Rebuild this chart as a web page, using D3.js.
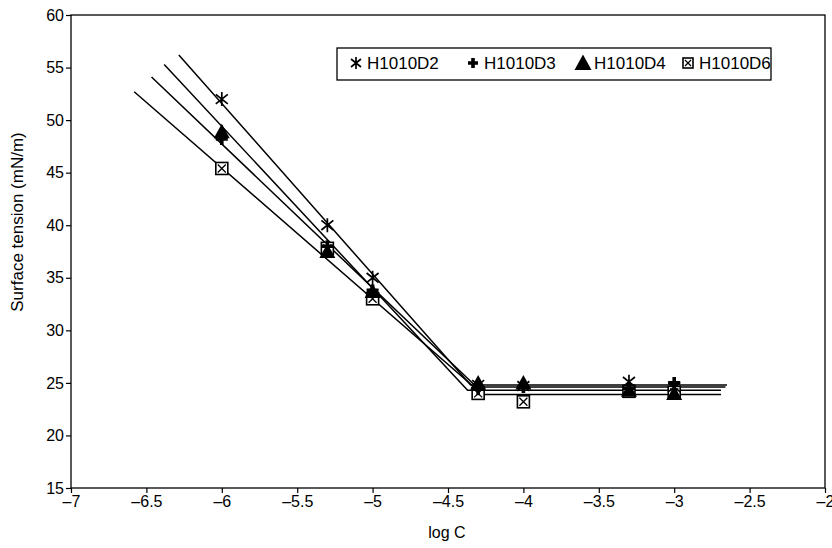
<!DOCTYPE html>
<html>
<head>
<meta charset="utf-8">
<script src="https://cdn.jsdelivr.net/npm/d3@7"></script>
<style>
  body { margin: 0; background: #fff; }
  svg { display: block; font-family: "Liberation Sans", Arial, sans-serif; }
</style>
</head>
<body>
<svg id="chart" width="832" height="548"></svg>
<script>
// log C values where surface tension was measured
var logC = [-6, -5.3, -5, -4.3, -4, -3.3, -3];

// surface tension (mN/m) for each sample
var valsD2 = [52.0, 40.0, 35.0, 24.8, 24.7, 25.1, 24.6];
var valsD3 = [48.2, 38.0, 33.8, 24.4, 24.6, 24.5, 25.0];
var valsD4 = [48.9, 37.5, 33.7, 25.0, 25.0, 24.3, 24.0];
var valsD6 = [45.4, 37.8, 33.0, 24.0, 23.2, 24.2, 24.1];

// fitted lines: [x start, y start, x break, y plateau, x end]
var fitD2 = [-6.285, 56.2, -4.35, 24.8, -2.65];
var fitD3 = [-6.466, 54.1, -4.31, 24.6, -2.66];
var fitD4 = [-6.382, 55.3, -4.37, 24.3, -2.69];
var fitD6 = [-6.581, 52.7, -4.27, 23.9, -2.69];

var names = ["H1010D2", "H1010D3", "H1010D4", "H1010D6"];
var markers = ["star", "plus", "triangle", "boxx"];

var xTicks = [-7, -6.5, -6, -5.5, -5, -4.5, -4, -3.5, -3, -2.5, -2];
var yTicks = [15, 20, 25, 30, 35, 40, 45, 50, 55, 60];

var series = [
  {name: names[0], values: valsD2, fit: fitD2, marker: markers[0]},
  {name: names[1], values: valsD3, fit: fitD3, marker: markers[1]},
  {name: names[2], values: valsD4, fit: fitD4, marker: markers[2]},
  {name: names[3], values: valsD6, fit: fitD6, marker: markers[3]}
];

var svg = d3.select("#chart");
var pLeft = 71, pRight = 825, pTop = 15, pBottom = 488;

var x = d3.scaleLinear().domain([-7, -2]).range([pLeft, pRight]);
var y = d3.scaleLinear().domain([15, 60]).range([pBottom, pTop]);

/******************** plot frame ********************/
svg.append("rect")
  .attr("x", pLeft).attr("y", pTop)
  .attr("width", pRight - pLeft).attr("height", pBottom - pTop)
  .attr("fill", "none").attr("stroke", "#000").attr("stroke-width", 1.3);

/******************** axes ********************/
var fmt = function (d) { return d3.format("")(d).replace("\u2212", "\u2013"); };

var xAxis = svg.append("g")
  .attr("transform", "translate(0," + pBottom + ")")
  .call(d3.axisBottom(x).tickValues(xTicks).tickSize(5).tickPadding(3).tickFormat(fmt));

var yAxis = svg.append("g")
  .attr("transform", "translate(" + pLeft + ",0)")
  .call(d3.axisLeft(y).tickValues(yTicks).tickSize(5).tickPadding(2).tickFormat(fmt));

[xAxis, yAxis].forEach(function (g) {
  g.select(".domain").remove();
  g.selectAll(".tick line").attr("stroke", "#000").attr("stroke-width", 1.2);
  g.selectAll(".tick text")
    .attr("fill", "#000")
    .style("font-size", "16px")
    .style("font-family", "'Liberation Sans', Arial, sans-serif");
});

svg.append("text")
  .attr("x", (pLeft + pRight) / 2 - 1).attr("y", 538)
  .attr("text-anchor", "middle")
  .style("font-size", "16px")
  .text("log C");

svg.append("text")
  .attr("transform", "translate(23,222) rotate(-90)")
  .attr("text-anchor", "middle")
  .style("font-size", "17px")
  .text("Surface tension (mN/m)");

/******************** fitted lines ********************/
var line = d3.line().x(function (d) { return x(d[0]); }).y(function (d) { return y(d[1]); });

svg.append("g").selectAll("path")
  .data(series)
  .join("path")
  .attr("d", function (s) {
    var f = s.fit;
    return line([[f[0], f[1]], [f[2], f[3]], [f[4], f[3]]]);
  })
  .attr("fill", "none")
  .attr("stroke", "#000")
  .attr("stroke-width", 1.5);

/******************** markers ********************/
function drawMarker(g, type, size) {
  var h = size / 2;
  if (type === "star") {
    g.append("path")
      .attr("d", "M" + (-h) + "," + (-h * 0.8) + "L" + h + "," + (h * 0.8) +
                 "M" + (-h) + "," + (h * 0.8) + "L" + h + "," + (-h * 0.8) +
                 "M0," + (-h - 1) + "L0," + (h + 1))
      .attr("stroke", "#000").attr("stroke-width", 1.7).attr("fill", "none");
  } else if (type === "plus") {
    g.append("path")
      .attr("d", "M" + (-h) + ",0L" + h + ",0M0," + (-h) + "L0," + h)
      .attr("stroke", "#000").attr("stroke-width", 3.6).attr("fill", "none");
  } else if (type === "triangle") {
    g.append("path")
      .attr("d", "M0," + (-h - 1) + "L" + (h + 1) + "," + (h - 0.5) + "L" + (-h - 1) + "," + (h - 0.5) + "Z")
      .attr("fill", "#000");
  } else {
    g.append("rect")
      .attr("x", -h).attr("y", -h).attr("width", size).attr("height", size)
      .attr("fill", "#fff").attr("stroke", "#000").attr("stroke-width", 1.6);
    g.append("path")
      .attr("d", "M" + (-h + 2) + "," + (-h + 2) + "L" + (h - 2) + "," + (h - 2) +
                 "M" + (-h + 2) + "," + (h - 2) + "L" + (h - 2) + "," + (-h + 2))
      .attr("stroke", "#000").attr("stroke-width", 1.3);
  }
}

series.slice().reverse().forEach(function (s) {
  s.values.forEach(function (v, i) {
    var g = svg.append("g").attr("transform", "translate(" + x(logC[i]) + "," + y(v) + ")");
    drawMarker(g, s.marker, s.marker === "triangle" ? 14 : 12);
  });
});

/******************** legend ********************/
var legend = svg.append("g");
legend.append("rect")
  .attr("x", 337).attr("y", 48).attr("width", 434).attr("height", 32)
  .attr("fill", "#fff").attr("stroke", "#000").attr("stroke-width", 1.3);

var legendX = [356, 473, 583, 688];
series.forEach(function (s, i) {
  var g = legend.append("g").attr("transform", "translate(" + legendX[i] + ",63)");
  drawMarker(g, s.marker, s.marker === "triangle" ? 15 : 10);
  g.append("text")
    .attr("x", 11).attr("y", 6)
    .style("font-size", "17px")
    .text(s.name);
});
</script>
</body>
</html>
